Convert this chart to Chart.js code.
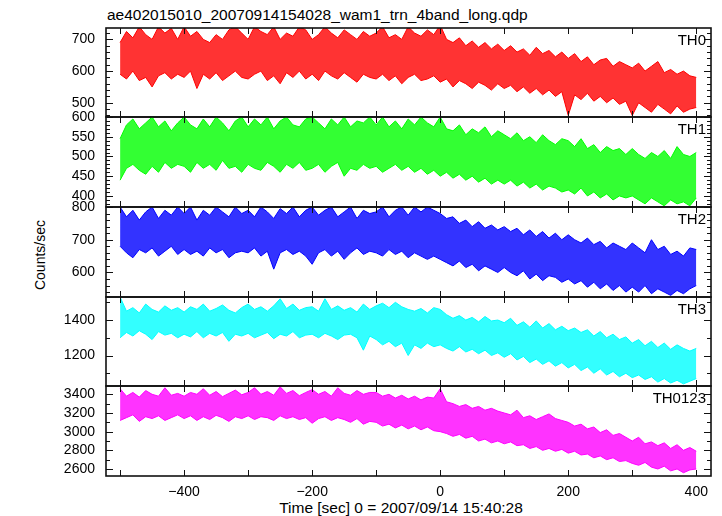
<!DOCTYPE html>
<html>
<head>
<meta charset="utf-8">
<script src="https://cdn.jsdelivr.net/npm/chart.js@4/dist/chart.umd.min.js"></script>
<style>
  body { margin: 0; background: #fff; width: 722px; height: 516px; position: relative; overflow: hidden;
         font-family: "Liberation Sans", Arial, sans-serif; }
  .panel { position: absolute; left: 0; width: 722px; }
  .txt { position: absolute; color: #000; white-space: nowrap; line-height: 1; }
</style>
</head>
<body>
<div class="txt" style="left:107px;top:7px;font-size:15.5px">ae402015010_20070914154028_wam1_trn_4band_long.qdp</div>
<div class="txt" style="left:0;width:722px;top:500px;text-align:center;font-size:15.5px;padding-left:80px;box-sizing:border-box">Time [sec] 0 = 2007/09/14 15:40:28</div>
<div class="txt" style="left:40px;top:255px;font-size:14px;transform:translate(-50%,-50%) rotate(-90deg)">Counts/sec</div>
<div id="charts"></div>
<script>
// time bins (sec, relative to 2007/09/14 15:40:28), 10 s apart
const times = [];
for (let t = -500; t <= 400; t += 10) times.push(t);

// upper / lower edge of the light curve in each 10 s bin (counts/sec)
const th0Hi = [
  690, 725, 705, 740, 715, 700, 740, 720, 735, 700,
  740, 710, 725, 700, 690, 715, 700, 730, 740, 720,
  700, 740, 725, 715, 740, 700, 720, 710, 740, 730,
  700, 715, 740, 720, 705, 730, 715, 700, 725, 710,
  720, 740, 705, 715, 700, 740, 720, 710, 730, 715,
  745, 700, 690, 705, 680, 695, 675, 690, 670, 685,
  665, 680, 660, 670, 650, 675, 655, 665, 645, 660,
  640, 655, 630, 645, 620, 635, 640, 615, 630, 620,
  610, 625, 600, 615, 630, 595, 605, 590, 600, 585,
  580
];
const th0Lo = [
  590, 575, 600, 570, 580, 550, 585, 595, 575, 590,
  580, 600, 545, 590, 575, 595, 570, 585, 600, 580,
  575, 590, 600, 570, 585, 560, 595, 580, 600, 575,
  590, 570, 600, 585, 575, 595, 580, 565, 590, 580,
  575, 590, 570, 585, 560, 580, 590, 570, 575, 585,
  565, 575, 550, 570, 560, 545, 565, 555, 540, 560,
  545, 555, 535, 550, 530, 545, 525, 540, 520, 535,
  460, 525, 510, 530, 505, 520, 500, 515, 495, 505,
  460, 500, 485, 470, 495, 480, 465, 490, 470, 480,
  485
];
const th1Hi = [
  545, 580, 595, 570, 585, 600, 575, 590, 565, 585,
  600, 580, 570, 595, 575, 600, 585, 565, 590, 600,
  575, 595, 580, 600, 570, 590, 600, 580, 575, 595,
  600, 585, 570, 595, 580, 600, 575, 590, 585, 600,
  580, 600, 575, 590, 570, 595, 580, 600, 585, 575,
  600, 570, 565, 580, 555, 570, 560, 575, 550, 565,
  555, 545, 560, 540, 550, 535, 555, 540, 530, 545,
  540, 525, 545, 520, 530, 510, 525, 515, 520, 505,
  520, 505, 495, 510, 500, 515, 495, 525, 505, 500,
  510
];
const th1Lo = [
  440, 470, 480, 465, 455, 475, 460, 485, 470, 480,
  475, 460, 485, 470, 480, 465, 490, 470, 475, 460,
  480, 470, 465, 485, 475, 460, 480, 470, 485, 465,
  470, 480, 460, 475, 485, 450, 470, 465, 480, 470,
  475, 460, 470, 480, 465, 475, 460, 470, 455, 465,
  450, 460, 445, 455, 440, 450, 435, 445, 430, 440,
  430, 440, 425, 435, 420, 430, 415, 425, 420, 410,
  415, 405, 420, 400, 410, 395, 405, 390, 400, 395,
  400, 390, 380, 395, 385, 375, 390, 380, 385, 375,
  395
];
const th2Hi = [
  800, 770, 790, 760, 785, 800, 765, 790, 775, 800,
  780, 800, 760, 790, 775, 800, 785, 770, 800, 780,
  790, 770, 800, 785, 765, 795, 780, 800, 770, 790,
  800, 775, 790, 800, 770, 785, 800, 765, 790, 780,
  785, 800, 770, 790, 800, 775, 800, 785, 800, 790,
  780, 765, 770, 750, 760, 740, 755, 735, 745, 730,
  740, 725, 735, 715, 730, 710, 725, 705, 720, 700,
  715, 700, 690, 705, 685, 695, 675, 690, 680, 670,
  690, 675, 660, 700, 670, 680, 655, 665, 650, 675,
  670
];
const th2Lo = [
  680, 660, 645, 670, 660, 675, 650, 665, 680, 655,
  670, 655, 665, 650, 675, 660, 670, 645, 660, 665,
  660, 675, 650, 665, 610, 660, 670, 655, 665, 650,
  625, 660, 670, 650, 665, 640, 660, 675, 655, 665,
  660, 650, 670, 655, 665, 645, 660, 650, 640, 650,
  640, 630, 620, 635, 615, 625, 605, 620, 610, 600,
  615, 600, 590, 605, 580, 595, 575, 590, 585, 570,
  580, 565, 575, 555, 570, 550, 565, 545, 560, 540,
  555, 540, 560, 535, 550, 540, 530, 545, 535, 550,
  560
];
const th3Hi = [
  1530, 1450, 1470, 1440, 1490, 1460, 1445, 1480, 1455, 1470,
  1445, 1475, 1460, 1490, 1450, 1465, 1485, 1455, 1440, 1470,
  1490, 1460, 1475, 1450, 1480, 1520, 1465, 1490, 1455, 1470,
  1475, 1450, 1520, 1460, 1480, 1455, 1470, 1445, 1490, 1460,
  1480, 1495, 1470, 1500, 1475, 1460, 1450, 1465, 1440, 1470,
  1460, 1430, 1410, 1425, 1400, 1415, 1390, 1420, 1395, 1400,
  1385, 1410, 1370, 1390, 1360, 1395, 1355, 1380, 1345, 1365,
  1340, 1355, 1330, 1345, 1310, 1335, 1300, 1320, 1290, 1305,
  1270, 1290, 1255, 1280, 1245, 1270, 1235, 1260, 1240, 1225,
  1240
];
const th3Lo = [
  1300, 1330, 1310, 1340, 1320, 1290, 1335, 1315, 1325, 1300,
  1320, 1305, 1335, 1300, 1325, 1310, 1330, 1280, 1320, 1310,
  1325, 1300, 1315, 1330, 1295, 1320, 1310, 1335, 1300, 1315,
  1320, 1300, 1325, 1310, 1290, 1315, 1320, 1300, 1230, 1310,
  1290, 1260, 1280, 1250, 1270, 1200, 1260, 1240, 1270, 1250,
  1260, 1240, 1225, 1250, 1220, 1235, 1210, 1230, 1200, 1215,
  1190, 1210, 1175, 1195, 1160, 1180, 1150, 1170, 1140, 1160,
  1130, 1150, 1115, 1135, 1100, 1125, 1090, 1110, 1080, 1100,
  1075, 1090, 1065, 1080, 1050, 1070, 1045, 1060, 1040, 1055,
  1070
];
const th0123Hi = [
  3460, 3380, 3420, 3370, 3440, 3400, 3380, 3470, 3390, 3410,
  3380, 3420, 3400, 3460, 3390, 3430, 3375, 3410, 3445, 3395,
  3420, 3470, 3400, 3430, 3390, 3480, 3410, 3440, 3385, 3420,
  3450, 3400, 3430, 3380, 3470, 3410, 3390, 3440, 3400, 3420,
  3420, 3380, 3400, 3360, 3390, 3350, 3380, 3340, 3370, 3360,
  3460, 3320, 3300, 3270, 3290, 3250, 3270, 3230, 3250, 3220,
  3200, 3180, 3230, 3150, 3170, 3130, 3160, 3190, 3140, 3120,
  3100, 3060, 3080, 3030, 3050, 2990, 3020, 2960, 2980, 2940,
  2900, 2940, 2870, 2890, 2850, 2880, 2820, 2860, 2800, 2830,
  2790
];
const th0123Lo = [
  3120, 3150, 3180, 3110, 3160, 3140, 3170, 3120, 3150, 3180,
  3140, 3170, 3120, 3160, 3130, 3175, 3150, 3110, 3160, 3140,
  3170, 3130, 3160, 3150, 3120, 3170, 3140, 3160, 3130, 3150,
  3090, 3140, 3160, 3120, 3150, 3130, 3100, 3140, 3080, 3110,
  3100, 3060, 3080, 3040, 3070, 3030, 3060, 3020, 3050, 3010,
  3000, 2980, 2950, 2970, 2930, 2950, 2900, 2920, 2880, 2900,
  2870, 2890, 2850, 2860, 2820, 2840, 2800, 2820, 2790, 2810,
  2770, 2790, 2750, 2760, 2720, 2740, 2700, 2720, 2680, 2690,
  2660, 2640, 2670, 2620, 2600, 2630, 2580, 2600, 2560, 2590,
  2600
];

const xTicks = [-400, -200, 0, 200, 400];

const panels = [
  { name: "TH0",    color: "255,0,0",   hi: th0Hi,    lo: th0Lo,    min: 455,  max: 736,  major: 100, minor: 20,  top: 28,  bottom: 117 },
  { name: "TH1",    color: "0,255,0",   hi: th1Hi,    lo: th1Lo,    min: 372,  max: 600,  major: 50,  minor: 10,  top: 117, bottom: 207 },
  { name: "TH2",    color: "0,0,255",   hi: th2Hi,    lo: th2Lo,    min: 525,  max: 800,  major: 100, minor: 20,  top: 207, bottom: 297 },
  { name: "TH3",    color: "0,255,255", hi: th3Hi,    lo: th3Lo,    min: 1028, max: 1530, major: 200, minor: 100, top: 297, bottom: 386 },
  { name: "TH0123", color: "255,0,255", hi: th0123Hi, lo: th0123Lo, min: 2525, max: 3489, major: 200, minor: 100, top: 386, bottom: 476 }
];

Chart.defaults.font.family = '"Liberation Sans", Arial, sans-serif';
Chart.defaults.font.size = 14;
Chart.defaults.color = "#000";

// frame + inward tick marks, qdp style
const framePlugin = {
  id: "frame",
  afterDatasetsDraw(chart, args, opts) {
    const ctx = chart.ctx, a = chart.chartArea;
    const xs = chart.scales.x, ys = chart.scales.y;
    ctx.save();
    ctx.strokeStyle = "#111";
    ctx.lineWidth = 1;
    ctx.beginPath();
    for (let t = -500; t <= 400; t += 100) {
      const px = Math.round(xs.getPixelForValue(t)) + 0.5;
      ctx.moveTo(px, a.top); ctx.lineTo(px, a.top + 6);
      ctx.moveTo(px, a.bottom); ctx.lineTo(px, a.bottom - 6);
    }
    const first = Math.ceil(opts.min / opts.minor) * opts.minor;
    for (let v = first; v <= opts.max; v += opts.minor) {
      const py = Math.round(ys.getPixelForValue(v)) + 0.5;
      const len = v % opts.major === 0 ? 7 : 4;
      ctx.moveTo(a.left, py); ctx.lineTo(a.left + len, py);
      ctx.moveTo(a.right, py); ctx.lineTo(a.right - len, py);
    }
    ctx.stroke();
    ctx.lineWidth = 1.6;
    ctx.strokeRect(a.left, a.top, a.right - a.left, a.bottom - a.top);
    ctx.restore();
  }
};

const holder = document.getElementById("charts");
panels.forEach((p, i) => {
  const last = i === panels.length - 1;
  const padTop = 24, padBot = last ? 0 : 24;
  const top = p.top - padTop;
  const height = last ? 516 - top : p.bottom - p.top + padTop + padBot;

  const div = document.createElement("div");
  div.className = "panel";
  div.style.top = top + "px";
  div.style.height = height + "px";
  const canvas = document.createElement("canvas");
  canvas.width = 722;
  canvas.height = height;
  div.appendChild(canvas);
  holder.appendChild(div);

  const label = document.createElement("div");
  label.className = "txt";
  label.textContent = p.name;
  label.style.right = "16px";
  label.style.top = (p.top + 4) + "px";
  label.style.fontSize = "15px";
  document.body.appendChild(label);

  const yTicks = [];
  for (let v = Math.ceil(p.min / p.major) * p.major; v <= p.max; v += p.major) yTicks.push(v);

  new Chart(canvas, {
    type: "line",
    data: {
      datasets: [
        {
          data: times.map((t, k) => ({ x: t, y: p.hi[k] })),
          borderColor: "rgb(" + p.color + ")",
          borderWidth: 1,
          pointRadius: 0,
          fill: false
        },
        {
          data: times.map((t, k) => ({ x: t, y: p.lo[k] })),
          borderColor: "rgb(" + p.color + ")",
          backgroundColor: "rgba(" + p.color + ",0.8)",
          borderWidth: 1,
          pointRadius: 0,
          fill: "-1"
        }
      ]
    },
    options: {
      responsive: false,
      animation: false,
      devicePixelRatio: 1,
      layout: { padding: { top: padTop, bottom: padBot, left: 0, right: 11 }, autoPadding: false },
      plugins: {
        legend: { display: false },
        tooltip: { enabled: false },
        frame: { min: p.min, max: p.max, major: p.major, minor: p.minor }
      },
      scales: {
        x: {
          type: "linear",
          min: -522,
          max: 423,
          display: last,
          grid: { display: false, drawTicks: false },
          border: { display: false },
          ticks: {
            autoSkip: false,
            maxRotation: 0,
            padding: 8,
            callback: v => (v < 0 ? "\u2212" + Math.abs(v) : String(v))
          },
          afterBuildTicks: s => { s.ticks = xTicks.map(v => ({ value: v })); },
          afterFit: s => { if (last) s.height = 40; }
        },
        y: {
          min: p.min,
          max: p.max,
          grid: { display: false, drawTicks: false },
          border: { display: false },
          ticks: { autoSkip: false, padding: 11, callback: v => String(v) },
          afterBuildTicks: s => { s.ticks = yTicks.map(v => ({ value: v })); },
          afterFit: s => { s.width = 106; }
        }
      }
    },
    plugins: [framePlugin]
  });
});
</script>
</body>
</html>
